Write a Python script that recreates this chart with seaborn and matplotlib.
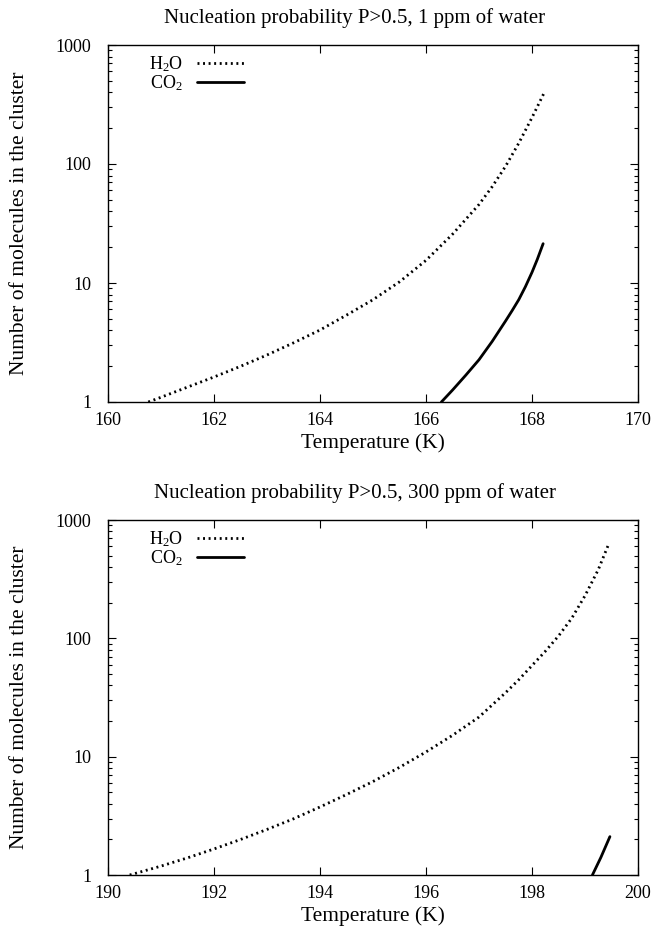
"""
plot.py

Critical cluster size versus temperature for two water concentrations.
"""

import matplotlib

matplotlib.use("Agg")

import matplotlib.pyplot as plt
import matplotlib.ticker as mticker
import pandas as pd
import seaborn as sns

# =========================
# DATA
# =========================

# 1 ppm of water
t_h2o_1ppm = [160.76, 161.0, 161.5, 162.0, 162.5, 163.0, 163.5, 164.0,
              164.5, 165.0, 165.5, 166.0, 166.5, 167.0, 167.25, 167.5,
              167.75, 168.0, 168.22]
n_h2o_1ppm = [1.0, 1.096, 1.334, 1.622, 1.995, 2.483, 3.141, 4.027,
              5.37, 7.24, 10.23, 15.5, 25.7, 45.7, 64.6, 95.5,
              149.6, 245.5, 389]
t_co2_1ppm = [166.29, 166.5, 166.75, 167.0, 167.25, 167.5, 167.625, 167.75,
              167.875, 168.0, 168.1, 168.21]
n_co2_1ppm = [1.0, 1.259, 1.679, 2.265, 3.236, 4.786, 5.86, 7.24,
              9.3, 12.3, 15.8, 21.4]

# 300 ppm of water
t_h2o_300ppm = [190.41, 191.0, 191.5, 192.0, 192.5, 193.0, 193.5, 194.0,
                194.5, 195.0, 195.5, 196.0, 196.5, 197.0, 197.5, 197.75,
                198.0, 198.25, 198.5, 198.75, 199.0, 199.25, 199.45]
n_h2o_300ppm = [1.0, 1.189, 1.396, 1.660, 1.995, 2.427, 2.985, 3.758,
                4.786, 6.166, 8.128, 10.96, 15.14, 21.63, 34.67, 44.67,
                58.88, 77.62, 104.7, 147.9, 229.1, 380.2, 631]
t_co2_300ppm = [199.14, 199.3, 199.47]
n_co2_300ppm = [1.0, 1.41, 2.11]

titles = ["Nucleation probability P>0.5, 1 ppm of water",
          "Nucleation probability P>0.5, 300 ppm of water"]
x_ranges = [(160, 170), (190, 200)]
y_ticks = [1, 10, 100, 1000]

# =========================
# STYLE
# =========================

sns.set_style("ticks")
plt.rcParams["font.family"] = ["Liberation Serif", "DejaVu Serif"]
plt.rcParams["mathtext.fontset"] = "custom"
plt.rcParams["mathtext.rm"] = "Liberation Serif"
plt.rcParams["mathtext.it"] = "Liberation Serif:italic"
for key in ["text.color", "axes.labelcolor", "xtick.color", "ytick.color"]:
    plt.rcParams[key] = "black"

fig = plt.figure(figsize=(6.55, 9.3), dpi=100)
W, H = 655, 930
axes = [
    fig.add_axes([108 / W, 1 - 402 / H, 530 / W, 357 / H]),
    fig.add_axes([108 / W, 1 - 875 / H, 530 / W, 355 / H]),
]

panels = [
    (t_h2o_1ppm, n_h2o_1ppm, t_co2_1ppm, n_co2_1ppm),
    (t_h2o_300ppm, n_h2o_300ppm, t_co2_300ppm, n_co2_300ppm),
]

for ax, (th, nh, tc, nc), title, xr in zip(axes, panels, titles, x_ranges):
    df_h = pd.DataFrame({"T": th, "N": nh})
    df_c = pd.DataFrame({"T": tc, "N": nc})
    sns.lineplot(data=df_h, x="T", y="N", ax=ax, color="black",
                 linewidth=2.0, linestyle=(0, (0.7, 1.3)),
                 label="H$_2$O")
    sns.lineplot(data=df_c, x="T", y="N", ax=ax, color="black",
                 linewidth=2.0, label="CO$_2$")

    ax.set_yscale("log")
    ax.set_xlim(*xr)
    ax.set_ylim(1, 1000)
    ax.set_xticks(range(xr[0], xr[1] + 1, 2))
    ax.set_yticks(y_ticks)
    ax.yaxis.set_major_formatter(mticker.FuncFormatter(lambda v, p: f"{v:g}"))
    ax.yaxis.set_minor_locator(mticker.LogLocator(base=10, subs=range(2, 10)))
    ax.yaxis.set_minor_formatter(mticker.NullFormatter())

    ax.tick_params(which="major", direction="in", length=6, width=0.8,
                   top=True, right=True, labelsize=13)
    ax.tick_params(axis="x", which="major", pad=7)
    ax.tick_params(axis="y", which="major", pad=12)
    ax.tick_params(which="minor", direction="in", length=3, width=0.8,
                   left=True, right=True, top=False, bottom=False)
    for spine in ax.spines.values():
        spine.set_visible(True)
        spine.set_linewidth(1.0)
        spine.set_color("black")

    ax.set_title(title, fontsize=15, pad=16, x=0.466)
    ax.set_xlabel("Temperature (K)", fontsize=15.5, labelpad=3)
    ax.set_ylabel("Number of molecules in the cluster", fontsize=15.5,
                  labelpad=19)

    ax.legend(loc="upper left", frameon=False, markerfirst=False,
              fontsize=13, handlelength=2.6, handletextpad=0.8,
              labelspacing=0.0, borderaxespad=0.1,
              bbox_to_anchor=(0.06, 1.0))

fig.savefig("out.png", dpi=100)
plt.close(fig)
